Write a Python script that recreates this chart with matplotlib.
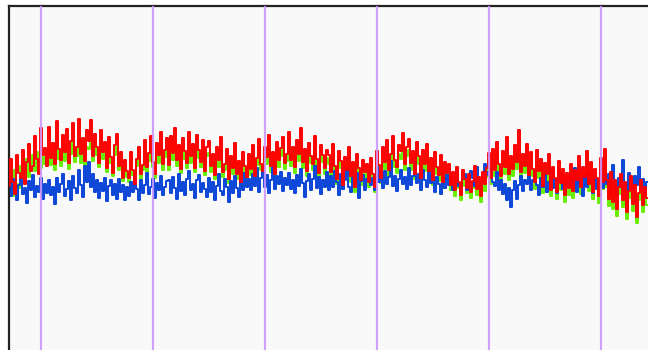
import matplotlib.pyplot as plt
import numpy as np

# three traces, one sample every 2 px, level in screen-height units
red = [
    164, 191, 168, 156, 195, 177, 172, 200, 166, 188, 206, 179, 184, 214, 191, 176, 222, 195, 202, 184,
    223, 192, 207, 186, 229, 201, 190, 215, 198, 221, 187, 209, 227, 194, 203, 231, 196, 212, 189, 220,
    209, 230, 194, 216, 203, 187, 220, 198, 208, 182, 213, 193, 177, 205, 216, 184, 198, 172, 190, 179,
    172, 198, 180, 166, 191, 203, 176, 185, 210, 183, 197, 214, 188, 176, 207, 195, 218, 186, 200, 212,
    185, 214, 197, 222, 190, 205, 181, 212, 199, 187, 218, 194, 206, 182, 215, 200, 188, 210, 179, 203,
    209, 184, 196, 175, 203, 190, 213, 178, 186, 201, 171, 194, 182, 207, 176, 189, 168, 198, 184, 173,
    196, 181, 205, 174, 192, 211, 186, 179, 203, 193, 215, 184, 198, 176, 208, 190, 202, 213, 187, 196,
    218, 190, 203, 183, 210, 196, 222, 188, 201, 179, 207, 194, 186, 214, 191, 177, 205, 195, 182, 200,
    195, 178, 206, 184, 171, 199, 189, 165, 193, 180, 203, 174, 188, 163, 196, 182, 170, 190, 178, 186,
    168, 192, 176, 163, 199, 185, 172, 203, 188, 210, 180, 196, 214, 190, 183, 205, 199, 217, 186, 203,
    211, 187, 199, 176, 208, 194, 172, 200, 186, 206, 179, 192, 170, 198, 183, 175, 195, 168, 188, 177,
    186, 165, 178, 160, 183, 168, 155, 180, 171, 162, 176, 158, 169, 184, 161, 173, 154, 178, 166, 182,
    197, 172, 201, 180, 208, 186, 174, 199, 183, 213, 176, 194, 181, 205, 188, 220, 178, 196, 184, 206,
    175, 198, 181, 168, 200, 179, 191, 164, 187, 176, 196, 160, 183, 172, 158, 189, 167, 181, 155, 177,
    162, 186, 159, 180, 170, 194, 163, 183, 173, 199, 166, 188, 158, 181, 172, 154, 192, 168, 201, 170,
    151, 178, 148, 170, 141, 163, 176, 150, 168, 138, 159, 174, 146, 165, 133, 157, 170, 145, 163, 152,
]

green = [
    159, 174, 154, 180, 166, 162, 184, 170, 178, 191, 173, 186, 195, 179, 189, 198, 182, 193, 186, 197,
    202, 185, 197, 180, 206, 191, 184, 201, 189, 205, 181, 196, 208, 188, 194, 210, 187, 200, 183, 203,
    201, 214, 189, 204, 195, 183, 207, 191, 198, 178, 202, 187, 174, 195, 203, 180, 190, 169, 184, 173,
    168, 188, 175, 162, 184, 193, 171, 180, 198, 178, 189, 202, 183, 172, 197, 187, 205, 180, 193, 200,
    180, 201, 190, 207, 184, 196, 177, 201, 191, 182, 205, 187, 197, 178, 203, 192, 183, 199, 175, 194,
    197, 178, 188, 171, 193, 183, 200, 173, 180, 191, 167, 186, 176, 195, 171, 182, 164, 189, 177, 168,
    187, 175, 194, 170, 185, 199, 180, 173, 193, 186, 202, 178, 190, 172, 197, 183, 194, 201, 181, 189,
    204, 184, 194, 177, 199, 189, 207, 182, 193, 174, 197, 187, 180, 201, 185, 172, 195, 188, 176, 192,
    186, 172, 195, 178, 166, 190, 182, 161, 185, 174, 193, 168, 181, 158, 187, 176, 165, 183, 171, 179,
    163, 184, 170, 158, 190, 178, 167, 193, 181, 199, 174, 188, 203, 183, 177, 196, 191, 205, 180, 194,
    200, 180, 191, 171, 197, 186, 167, 191, 179, 196, 173, 185, 165, 189, 176, 169, 186, 162, 181, 171,
    177, 160, 170, 154, 175, 162, 150, 172, 164, 157, 168, 152, 162, 175, 155, 166, 148, 170, 159, 173,
    187, 166, 191, 174, 197, 179, 168, 190, 176, 201, 170, 186, 174, 195, 181, 206, 172, 188, 177, 196,
    168, 189, 174, 161, 191, 172, 183, 157, 179, 169, 187, 154, 176, 165, 151, 181, 160, 174, 148, 170,
    155, 178, 152, 173, 163, 185, 156, 176, 166, 190, 159, 180, 151, 174, 165, 147, 184, 161, 192, 163,
    144, 170, 141, 162, 134, 156, 168, 143, 160, 131, 152, 166, 139, 158, 127, 150, 163, 138, 156, 145,
]

blue = [
    168, 154, 171, 159, 150, 165, 173, 156, 162, 147, 169, 160, 175, 153, 164, 158, 172, 151, 166, 157,
    170, 155, 163, 146, 172, 158, 166, 176, 154, 161, 169, 150, 174, 162, 157, 180, 165, 153, 184, 168,
    188, 163, 176, 158, 170, 152, 167, 159, 172, 149, 164, 170, 155, 166, 151, 171, 158, 165, 150, 163,
    154, 168, 158, 173, 161, 150, 170, 157, 165, 177, 156, 163, 171, 152, 167, 160, 174, 155, 163, 169,
    170, 157, 173, 162, 151, 176, 159, 168, 155, 171, 179, 160, 166, 152, 170, 175, 158, 167, 161, 153,
    172, 158, 168, 150, 164, 176, 159, 155, 171, 163, 148, 169, 157, 174, 162, 153, 170, 160, 177, 163,
    171, 160, 176, 164, 182, 158, 172, 180, 163, 175, 157, 170, 183, 161, 174, 166, 178, 159, 172, 165,
    177, 161, 170, 157, 175, 164, 181, 167, 153, 169, 176, 160, 171, 184, 162, 173, 156, 170, 163, 178,
    160, 174, 163, 179, 168, 155, 176, 161, 170, 182, 163, 158, 173, 166, 177, 152, 169, 175, 160, 171,
    177, 165, 172, 160, 183, 168, 175, 162, 179, 166, 173, 189, 164, 174, 159, 171, 180, 166, 173, 161,
    182, 165, 174, 188, 167, 176, 160, 180, 170, 163, 178, 167, 174, 158, 173, 166, 156, 171, 162, 175,
    165, 177, 160, 172, 181, 164, 156, 171, 176, 160, 168, 179, 172, 164, 183, 169, 161, 176, 186, 178,
    175, 181, 168, 164, 178, 160, 170, 156, 166, 150, 162, 143, 160, 169, 151, 165, 174, 159, 170, 166,
    174, 160, 170, 179, 165, 155, 172, 163, 176, 158, 168, 181, 162, 171, 157, 170, 177, 161, 168, 174,
    163, 176, 167, 182, 158, 171, 166, 154, 174, 163, 178, 167, 157, 172, 161, 170, 180, 162, 173, 166,
    176, 160, 185, 167, 156, 172, 163, 190, 166, 153, 177, 169, 158, 174, 165, 183, 160, 171, 155, 168,
]

# sample indices of the period markers
markers = [16, 72, 128, 184, 240, 296]

W, H = 648, 350
fig = plt.figure(figsize=(W / 100, H / 100), dpi=100)
fig.patch.set_facecolor('white')

# plot area runs off the right and bottom edges of the image
left, top = 9, 6
ax = fig.add_axes([left / W, -20 / H, (W + 12 - left) / W, (H + 20 - top) / H])
ax.set_facecolor('#f9f9f9')

t = np.arange(len(red)) * 2
style = dict(lw=1.4, drawstyle='steps-mid')
ax.plot(t, green, color='#66ee00', zorder=2, **style)
ax.plot(t, blue, color='#0a44d8', zorder=2, **style)
ax.plot(t, red, color='#ff0000', zorder=3, **style)

for m in markers:
    ax.axvline(m * 2, color='#cc99ff', lw=1.6, alpha=0.9, zorder=4)

ax.set_xlim(0, W + 12 - left)
ax.set_ylim(-20, H - top)
ax.set_xticks([])
ax.set_yticks([])
for side in ('left', 'top'):
    ax.spines[side].set_color('#222222')
    ax.spines[side].set_linewidth(1.6)
for side in ('right', 'bottom'):
    ax.spines[side].set_visible(False)

fig.savefig('out.png', dpi=100)
